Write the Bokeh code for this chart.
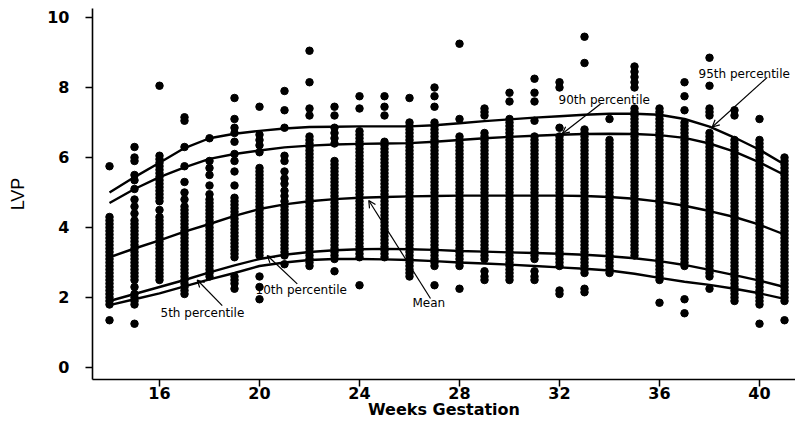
from bokeh.plotting import figure
from bokeh.models import Range1d, FixedTicker, Label, Arrow, OpenHead, ColumnDataSource
from bokeh.embed import file_html
from bokeh.resources import INLINE

# ---------------- data ----------------
weeks = list(range(14, 42))
x_ticks = [16, 20, 24, 28, 32, 36, 40]
y_ticks = [0, 2, 4, 6, 8, 10]

p95 = [5.0, 5.44, 5.85, 6.27, 6.55, 6.68, 6.76, 6.83, 6.87, 6.88, 6.89, 6.89, 6.89, 6.92,
       6.98, 7.04, 7.09, 7.14, 7.18, 7.22, 7.25, 7.25, 7.22, 7.1, 6.88, 6.57, 6.22, 5.8]
p90 = [4.7, 5.1, 5.44, 5.72, 5.96, 6.1, 6.2, 6.29, 6.34, 6.37, 6.39, 6.4, 6.41, 6.45,
       6.5, 6.55, 6.59, 6.62, 6.65, 6.67, 6.68, 6.67, 6.64, 6.56, 6.4, 6.17, 5.86, 5.5]
mean = [3.15, 3.4, 3.63, 3.88, 4.1, 4.33, 4.53, 4.66, 4.75, 4.81, 4.85, 4.87, 4.89, 4.9,
        4.91, 4.91, 4.91, 4.91, 4.91, 4.9, 4.87, 4.82, 4.74, 4.62, 4.47, 4.3, 4.08, 3.8]
p10 = [1.9, 2.1, 2.3, 2.5, 2.72, 2.92, 3.1, 3.22, 3.3, 3.35, 3.38, 3.39, 3.38, 3.36,
       3.33, 3.31, 3.29, 3.27, 3.25, 3.22, 3.18, 3.12, 3.04, 2.93, 2.79, 2.64, 2.48, 2.3]
p5 = [1.78, 1.95, 2.12, 2.32, 2.52, 2.7, 2.9, 3.0, 3.07, 3.1, 3.1, 3.09, 3.07, 3.04,
      3.0, 2.97, 2.94, 2.9, 2.86, 2.82, 2.77, 2.68, 2.56, 2.45, 2.36, 2.25, 2.12, 1.96]

w14 = [5.75, 4.3, 4.2, 4.1, 4.0, 3.9, 3.8, 3.7, 3.6, 3.5, 3.4, 3.3, 3.2, 3.1, 3.0, 2.9, 2.8,
       2.7, 2.6, 2.5, 2.4, 2.3, 2.2, 2.1, 2.0, 1.9, 1.8, 1.35]
w15 = [6.3, 6.0, 5.9, 5.5, 5.35, 5.1, 4.8, 4.6, 4.4, 4.2, 4.1, 4.0, 3.9, 3.8, 3.7, 3.6, 3.5,
       3.4, 3.3, 3.2, 3.1, 3.0, 2.9, 2.8, 2.7, 2.6, 2.5, 2.3, 2.1, 2.0, 1.9, 1.8, 1.25]
w16 = [8.05, 6.05, 5.95, 5.85, 5.75, 5.65, 5.55, 5.45, 5.35, 5.25, 5.15, 5.05, 4.95, 4.85,
       4.75, 4.5, 4.3, 4.2, 4.1, 4.0, 3.9, 3.8, 3.7, 3.6, 3.5, 3.4, 3.3, 3.2, 3.1, 3.0, 2.9,
       2.8, 2.7, 2.6, 2.5]
w17 = [7.15, 7.05, 6.3, 5.75, 5.3, 5.0, 4.8, 4.6, 4.5, 4.4, 4.3, 4.2, 4.1, 4.0, 3.9, 3.8,
       3.7, 3.6, 3.5, 3.4, 3.3, 3.2, 3.1, 3.0, 2.9, 2.8, 2.7, 2.6, 2.5, 2.4, 2.3, 2.2, 2.1]
w18 = [6.55, 5.9, 5.7, 5.5, 5.2, 4.95, 4.8, 4.7, 4.6, 4.5, 4.4, 4.3, 4.2, 4.1, 4.0, 3.9,
       3.8, 3.7, 3.6, 3.5, 3.4, 3.3, 3.2, 3.1, 3.0, 2.9, 2.8, 2.7, 2.6]
w19 = [7.7, 7.1, 6.85, 6.7, 6.45, 6.1, 5.9, 5.6, 5.2, 4.85, 4.75, 4.65, 4.55, 4.45, 4.35,
       4.25, 4.15, 4.05, 3.95, 3.85, 3.75, 3.65, 3.55, 3.45, 3.35, 3.25, 3.15, 2.6, 2.5,
       2.4, 2.25]
w20 = [7.45, 6.65, 6.5, 6.35, 6.15, 5.7, 5.6, 5.5, 5.4, 5.3, 5.2, 5.1, 5.0, 4.9, 4.8, 4.7,
       4.6, 4.5, 4.4, 4.3, 4.2, 4.1, 4.0, 3.9, 3.8, 3.7, 3.6, 3.5, 3.4, 3.3, 3.2, 2.6, 2.3,
       1.95]
w21 = [7.9, 7.35, 6.85, 6.05, 5.9, 5.6, 5.4, 5.25, 5.05, 4.9, 4.75, 4.6, 4.5, 4.4, 4.3,
       4.2, 4.1, 4.0, 3.9, 3.8, 3.7, 3.6, 3.5, 3.4, 3.3, 3.2, 2.95]
w22 = [9.05, 8.15, 7.4, 7.2, 6.6, 6.5, 6.4, 6.3, 6.2, 6.1, 6.0, 5.9, 5.8, 5.7, 5.6, 5.5,
       5.4, 5.3, 5.2, 5.1, 5.0, 4.9, 4.8, 4.7, 4.6, 4.5, 4.4, 4.3, 4.2, 4.1, 4.0, 3.9, 3.8,
       3.7, 3.6, 3.5, 3.4, 3.3, 3.2, 3.1, 3.0, 2.9]
w23 = [7.45, 7.2, 6.85, 6.7, 6.55, 6.4, 5.9, 5.8, 5.7, 5.6, 5.5, 5.4, 5.3, 5.2, 5.1, 5.0,
       4.9, 4.8, 4.7, 4.6, 4.5, 4.4, 4.3, 4.2, 4.1, 4.0, 3.9, 3.8, 3.7, 3.6, 3.5, 3.4, 3.3,
       3.2, 3.1, 2.75]
w24 = [7.75, 7.4, 6.75, 6.65, 6.55, 6.45, 6.35, 6.25, 6.15, 6.05, 5.95, 5.85, 5.75, 5.65,
       5.55, 5.45, 5.35, 5.25, 5.15, 5.05, 4.95, 4.85, 4.75, 4.65, 4.55, 4.45, 4.35, 4.25,
       4.15, 4.05, 3.95, 3.85, 3.75, 3.65, 3.55, 3.45, 3.35, 3.25, 3.15, 2.35]
w25 = [7.75, 7.45, 7.2, 6.45, 6.35, 6.25, 6.15, 6.05, 5.95, 5.85, 5.75, 5.65, 5.55, 5.45,
       5.35, 5.25, 5.15, 5.05, 4.95, 4.85, 4.75, 4.65, 4.55, 4.45, 4.35, 4.25, 4.15, 4.05,
       3.95, 3.85, 3.75, 3.65, 3.55, 3.45, 3.35, 3.25, 3.15]
w26 = [7.7, 7.0, 6.9, 6.8, 6.7, 6.6, 6.5, 6.4, 6.3, 6.2, 6.1, 6.0, 5.9, 5.8, 5.7, 5.6, 5.5,
       5.4, 5.3, 5.2, 5.1, 5.0, 4.9, 4.8, 4.7, 4.6, 4.5, 4.4, 4.3, 4.2, 4.1, 4.0, 3.9, 3.8,
       3.7, 3.6, 3.5, 3.4, 3.3, 3.2, 3.1, 3.0, 2.9, 2.8, 2.7, 2.6]
w27 = [8.0, 7.75, 7.45, 7.0, 6.9, 6.8, 6.7, 6.6, 6.5, 6.4, 6.3, 6.2, 6.1, 6.0, 5.9, 5.8,
       5.7, 5.6, 5.5, 5.4, 5.3, 5.2, 5.1, 5.0, 4.9, 4.8, 4.7, 4.6, 4.5, 4.4, 4.3, 4.2, 4.1,
       4.0, 3.9, 3.8, 3.7, 3.6, 3.5, 3.4, 3.3, 3.2, 3.1, 3.0, 2.9, 2.35]
w28 = [9.25, 7.1, 6.6, 6.5, 6.4, 6.3, 6.2, 6.1, 6.0, 5.9, 5.8, 5.7, 5.6, 5.5, 5.4, 5.3,
       5.2, 5.1, 5.0, 4.9, 4.8, 4.7, 4.6, 4.5, 4.4, 4.3, 4.2, 4.1, 4.0, 3.9, 3.8, 3.7, 3.6,
       3.5, 3.4, 3.3, 3.2, 3.1, 3.0, 2.9, 2.25]
w29 = [7.4, 7.3, 7.2, 6.7, 6.6, 6.5, 6.4, 6.3, 6.2, 6.1, 6.0, 5.9, 5.8, 5.7, 5.6, 5.5, 5.4,
       5.3, 5.2, 5.1, 5.0, 4.9, 4.8, 4.7, 4.6, 4.5, 4.4, 4.3, 4.2, 4.1, 4.0, 3.9, 3.8, 3.7,
       3.6, 3.5, 3.4, 3.3, 3.2, 3.1, 2.75, 2.6, 2.5]
w30 = [7.85, 7.6, 7.1, 7.0, 6.9, 6.8, 6.7, 6.6, 6.5, 6.4, 6.3, 6.2, 6.1, 6.0, 5.9, 5.8,
       5.7, 5.6, 5.5, 5.4, 5.3, 5.2, 5.1, 5.0, 4.9, 4.8, 4.7, 4.6, 4.5, 4.4, 4.3, 4.2, 4.1,
       4.0, 3.9, 3.8, 3.7, 3.6, 3.5, 3.4, 3.3, 3.2, 3.1, 3.0, 2.9, 2.8, 2.7, 2.6, 2.5]
w31 = [8.25, 7.85, 7.6, 7.05, 6.6, 6.5, 6.4, 6.3, 6.2, 6.1, 6.0, 5.9, 5.8, 5.7, 5.6, 5.5,
       5.4, 5.3, 5.2, 5.1, 5.0, 4.9, 4.8, 4.7, 4.6, 4.5, 4.4, 4.3, 4.2, 4.1, 4.0, 3.9, 3.8,
       3.7, 3.6, 3.5, 3.4, 3.3, 3.2, 3.1, 2.75, 2.6, 2.5]
w32 = [8.15, 8.0, 6.85, 6.6, 6.5, 6.4, 6.3, 6.2, 6.1, 6.0, 5.9, 5.8, 5.7, 5.6, 5.5, 5.4,
       5.3, 5.2, 5.1, 5.0, 4.9, 4.8, 4.7, 4.6, 4.5, 4.4, 4.3, 4.2, 4.1, 4.0, 3.9, 3.8, 3.7,
       3.6, 3.5, 3.4, 3.3, 3.2, 3.1, 3.0, 2.9, 2.2, 2.1]
w33 = [9.45, 8.7, 6.8, 6.7, 6.6, 6.5, 6.4, 6.3, 6.2, 6.1, 6.0, 5.9, 5.8, 5.7, 5.6, 5.5,
       5.4, 5.3, 5.2, 5.1, 5.0, 4.9, 4.8, 4.7, 4.6, 4.5, 4.4, 4.3, 4.2, 4.1, 4.0, 3.9, 3.8,
       3.7, 3.6, 3.5, 3.4, 3.3, 3.2, 3.1, 3.0, 2.9, 2.8, 2.7, 2.25, 2.15]
w34 = [7.1, 6.5, 6.4, 6.3, 6.2, 6.1, 6.0, 5.9, 5.8, 5.7, 5.6, 5.5, 5.4, 5.3, 5.2, 5.1,
       5.0, 4.9, 4.8, 4.7, 4.6, 4.5, 4.4, 4.3, 4.2, 4.1, 4.0, 3.9, 3.8, 3.7, 3.6, 3.5, 3.4,
       3.3, 3.2, 3.1, 3.0, 2.9, 2.8, 2.7]
w35 = [8.6, 8.45, 8.3, 8.15, 8.0, 7.4, 7.3, 7.2, 7.1, 7.0, 6.9, 6.8, 6.7, 6.6, 6.5, 6.4,
       6.3, 6.2, 6.1, 6.0, 5.9, 5.8, 5.7, 5.6, 5.5, 5.4, 5.3, 5.2, 5.1, 5.0, 4.9, 4.8, 4.7,
       4.6, 4.5, 4.4, 4.3, 4.2, 4.1, 4.0, 3.9, 3.8, 3.7, 3.6, 3.5, 3.4, 3.3, 3.2]
w36 = [7.4, 7.3, 7.2, 7.1, 7.0, 6.9, 6.8, 6.7, 6.6, 6.5, 6.4, 6.3, 6.2, 6.1, 6.0, 5.9, 5.8,
       5.7, 5.6, 5.5, 5.4, 5.3, 5.2, 5.1, 5.0, 4.9, 4.8, 4.7, 4.6, 4.5, 4.4, 4.3, 4.2, 4.1,
       4.0, 3.9, 3.8, 3.7, 3.6, 3.5, 3.4, 3.3, 3.2, 3.1, 3.0, 2.9, 2.8, 2.7, 2.6, 2.5, 1.85]
w37 = [8.15, 7.75, 7.35, 7.0, 6.9, 6.8, 6.7, 6.6, 6.5, 6.4, 6.3, 6.2, 6.1, 6.0, 5.9, 5.8,
       5.7, 5.6, 5.5, 5.4, 5.3, 5.2, 5.1, 5.0, 4.9, 4.8, 4.7, 4.6, 4.5, 4.4, 4.3, 4.2, 4.1,
       4.0, 3.9, 3.8, 3.7, 3.6, 3.5, 3.4, 3.3, 3.2, 3.1, 3.0, 2.9, 1.95, 1.55]
w38 = [8.85, 8.05, 7.4, 7.3, 7.2, 6.7, 6.6, 6.5, 6.4, 6.3, 6.2, 6.1, 6.0, 5.9, 5.8, 5.7,
       5.6, 5.5, 5.4, 5.3, 5.2, 5.1, 5.0, 4.9, 4.8, 4.7, 4.6, 4.5, 4.4, 4.3, 4.2, 4.1, 4.0,
       3.9, 3.8, 3.7, 3.6, 3.5, 3.4, 3.3, 3.2, 3.1, 3.0, 2.9, 2.8, 2.7, 2.6, 2.25]
w39 = [7.35, 7.2, 6.5, 6.4, 6.3, 6.2, 6.1, 6.0, 5.9, 5.8, 5.7, 5.6, 5.5, 5.4, 5.3, 5.2,
       5.1, 5.0, 4.9, 4.8, 4.7, 4.6, 4.5, 4.4, 4.3, 4.2, 4.1, 4.0, 3.9, 3.8, 3.7, 3.6, 3.5,
       3.4, 3.3, 3.2, 3.1, 3.0, 2.9, 2.8, 2.7, 2.6, 2.5, 2.4, 2.3, 2.2, 2.1, 2.0, 1.9]
w40 = [7.1, 6.5, 6.4, 6.3, 6.2, 6.1, 6.0, 5.9, 5.8, 5.7, 5.6, 5.5, 5.4, 5.3, 5.2, 5.1,
       5.0, 4.9, 4.8, 4.7, 4.6, 4.5, 4.4, 4.3, 4.2, 4.1, 4.0, 3.9, 3.8, 3.7, 3.6, 3.5, 3.4,
       3.3, 3.2, 3.1, 3.0, 2.9, 2.8, 2.7, 2.6, 2.5, 2.4, 2.3, 2.2, 2.1, 2.0, 1.9, 1.8, 1.25]
w41 = [6.0, 5.9, 5.8, 5.7, 5.6, 5.5, 5.4, 5.3, 5.2, 5.1, 5.0, 4.9, 4.8, 4.7, 4.6, 4.5,
       4.4, 4.3, 4.2, 4.1, 4.0, 3.9, 3.8, 3.7, 3.6, 3.5, 3.4, 3.3, 3.2, 3.1, 3.0, 2.9, 2.8,
       2.7, 2.6, 2.5, 2.4, 2.3, 2.2, 2.1, 2.0, 1.9, 1.35]

lvp_by_week = [w14, w15, w16, w17, w18, w19, w20, w21, w22, w23, w24, w25, w26, w27,
               w28, w29, w30, w31, w32, w33, w34, w35, w36, w37, w38, w39, w40, w41]

pts_x, pts_y = [], []
for wk, vals in zip(weeks, lvp_by_week):
    pts_x += [wk] * len(vals)
    pts_y += vals
src = ColumnDataSource(dict(x=pts_x, y=pts_y))

# ---------------- figure ----------------
p = figure(width=795, height=421, output_backend="svg", toolbar_location=None,
           x_range=Range1d(13.32, 41.44), y_range=Range1d(-0.343, 10.257),
           min_border_left=92, min_border_right=0, min_border_top=8, min_border_bottom=42)
p.outline_line_color = None
p.grid.visible = False
p.background_fill_color = "white"
p.border_fill_color = "white"

p.scatter("x", "y", source=src, size=7.5, color="black")

for series in (p95, p90, mean, p10, p5):
    p.line(weeks, series, line_color="black", line_width=2.4)

for ax in (p.xaxis[0], p.yaxis[0]):
    ax.axis_line_width = 1.6
    ax.axis_line_color = "black"
    ax.major_tick_line_width = 1.5
    ax.major_tick_in = 0
    ax.major_tick_out = 7
    ax.minor_tick_line_color = None
    ax.major_label_text_font = "DejaVu Sans"
    ax.major_label_text_font_style = "bold"
    ax.major_label_text_font_size = "16px"
    ax.major_label_text_color = "black"
    ax.axis_label_text_color = "black"

p.xaxis.ticker = FixedTicker(ticks=x_ticks)
p.yaxis.ticker = FixedTicker(ticks=y_ticks)
p.xaxis.axis_label = "Weeks Gestation"
p.xaxis.axis_label_text_font = "DejaVu Sans"
p.xaxis.axis_label_text_font_style = "bold"
p.xaxis.axis_label_text_font_size = "16px"
p.xaxis.major_label_standoff = 0
p.xaxis.axis_label_standoff = -2
p.yaxis.axis_label = "LVP"
p.yaxis.axis_label_text_font = "Liberation Sans"
p.yaxis.axis_label_text_font_style = "normal"
p.yaxis.axis_label_text_font_size = "18px"
p.yaxis.major_label_standoff = 16
p.yaxis.axis_label_standoff = 16

# ---------------- annotations ----------------
ann_font = "DejaVu Sans"
labels = [
    ("5th percentile", 16.04, 1.55),
    ("10th percentile", 19.84, 2.2),
    ("Mean", 26.12, 1.83),
    ("90th percentile", 31.96, 7.65),
    ("95th percentile", 37.56, 8.39),
]
for txt, lx, ly in labels:
    p.add_layout(Label(x=lx, y=ly, text=txt, text_font=ann_font, text_font_size="12px",
                       text_baseline="middle", text_align="left", text_color="black",
                       background_fill_color=None))

arrows = [
    (18.51, 1.77, 17.51, 2.5),
    (21.51, 2.39, 20.31, 3.2),
    (26.84, 1.97, 24.37, 4.77),
    (33.64, 7.53, 32.11, 6.68),
    (40.31, 8.29, 38.11, 6.87),
]
for x0, y0, x1, y1 in arrows:
    p.add_layout(Arrow(x_start=x0, y_start=y0, x_end=x1, y_end=y1, line_width=1.2,
                       line_color="black",
                       end=OpenHead(size=7, line_width=1.2, line_color="black")))

open("out.html", "w").write(file_html(p, INLINE))
